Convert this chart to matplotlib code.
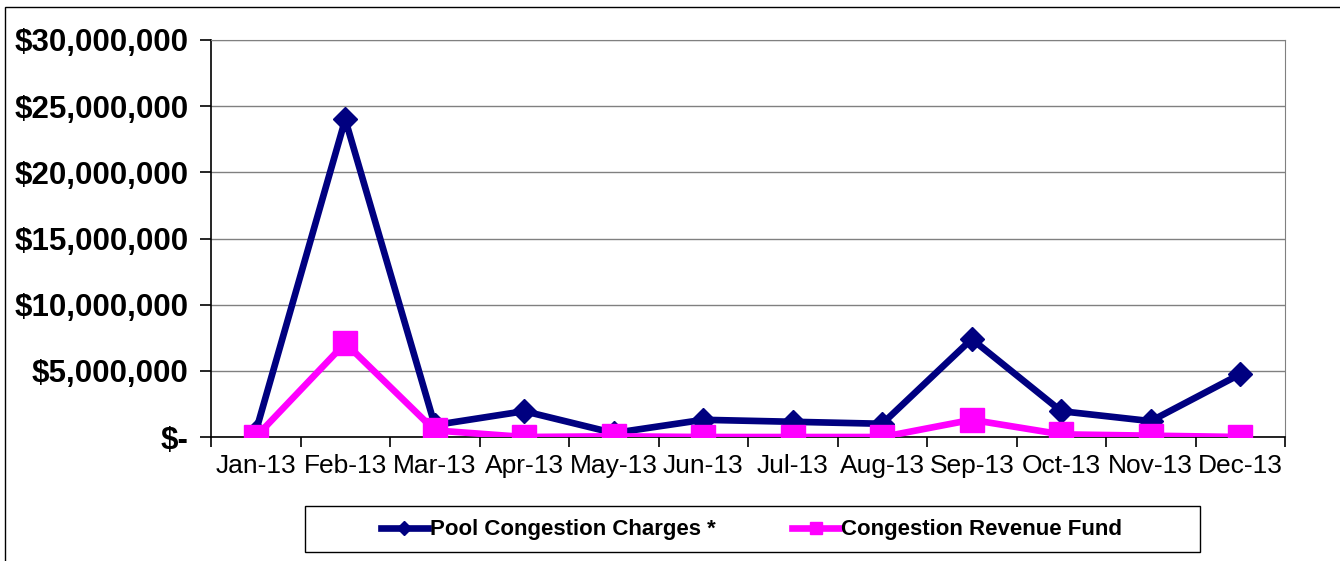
import numpy as np
import matplotlib.pyplot as plt
from matplotlib.patches import Rectangle
from matplotlib.ticker import FuncFormatter, FixedLocator

plt.rcParams['font.family'] = ['Liberation Sans', 'DejaVu Sans']

months = ['Jan-13', 'Feb-13', 'Mar-13', 'Apr-13', 'May-13', 'Jun-13',
          'Jul-13', 'Aug-13', 'Sep-13', 'Oct-13', 'Nov-13', 'Dec-13']
pool_charges = [0.4e6, 24.0e6, 0.9e6, 1.95e6, 0.3e6, 1.3e6,
                1.15e6, 1.0e6, 7.4e6, 1.95e6, 1.2e6, 4.75e6]
revenue_fund = [0.0, 7.1e6, 0.5e6, 0.0, 0.05e6, 0.0,
                0.0, 0.0, 1.3e6, 0.2e6, 0.1e6, 0.0]

def money(v, pos):
    if v == 0:
        return '$-'
    return f'${v:,.0f}'

W, H = 1340, 561
fig = plt.figure(figsize=(W / 100, H / 100), dpi=100)
ax = fig.add_axes([211 / W, 1 - 437 / H, (1285 - 211) / W, (437 - 40) / H])

x = np.arange(len(months))
ax.plot(x, pool_charges, color='#000080', linewidth=4.8, marker='D',
        markersize=12.5, label='Pool Congestion Charges *', zorder=3)
ax.plot(x, revenue_fund, color='#FF00FF', linewidth=4.8, marker='s',
        markersize=17, label='Congestion Revenue Fund', zorder=4)

ax.set_xlim(-0.5, len(months) - 0.5)
ax.set_ylim(0, 30e6)
ax.set_yticks(np.arange(0, 30e6 + 1, 5e6))
ax.yaxis.set_major_formatter(FuncFormatter(money))
ax.grid(axis='y', color='#808080', linewidth=1.0)
ax.set_axisbelow(True)

ax.set_xticks(x)
ax.set_xticklabels(months, fontsize=19)
ax.tick_params(axis='x', which='major', length=0, pad=12)
ax.xaxis.set_minor_locator(FixedLocator(np.arange(-0.5, len(months), 1.0)))
ax.tick_params(axis='x', which='minor', length=7, direction='out', width=1.2)
ax.tick_params(axis='y', length=8, direction='out', width=1.2, pad=8)
for lbl in ax.get_yticklabels():
    lbl.set_fontsize(22.5)
    lbl.set_fontweight('bold')

ax.spines['left'].set_color('black')
ax.spines['left'].set_linewidth(1.2)
ax.spines['bottom'].set_color('black')
ax.spines['bottom'].set_linewidth(1.2)
ax.spines['top'].set_color('#808080')
ax.spines['right'].set_color('#808080')

leg = fig.legend(loc='center', bbox_to_anchor=(751.5 / W, 1 - 530 / H), ncol=2,
                 prop={'weight': 'bold', 'size': 16}, frameon=False,
                 handlelength=2.1, handletextpad=0.1, columnspacing=3.45,
                 markerscale=0.55)

# legend box and outer chart border
fig.patches.append(Rectangle((305 / W, 1 - 552 / H), (1200 - 305) / W, 46 / H,
                             transform=fig.transFigure, fill=False,
                             edgecolor='black', linewidth=1.0))
fig.patches.append(Rectangle((0.004, -0.01), 1.0, 0.997, transform=fig.transFigure,
                             fill=False, edgecolor='black', linewidth=1.0))

fig.savefig('out.png', dpi=100)
